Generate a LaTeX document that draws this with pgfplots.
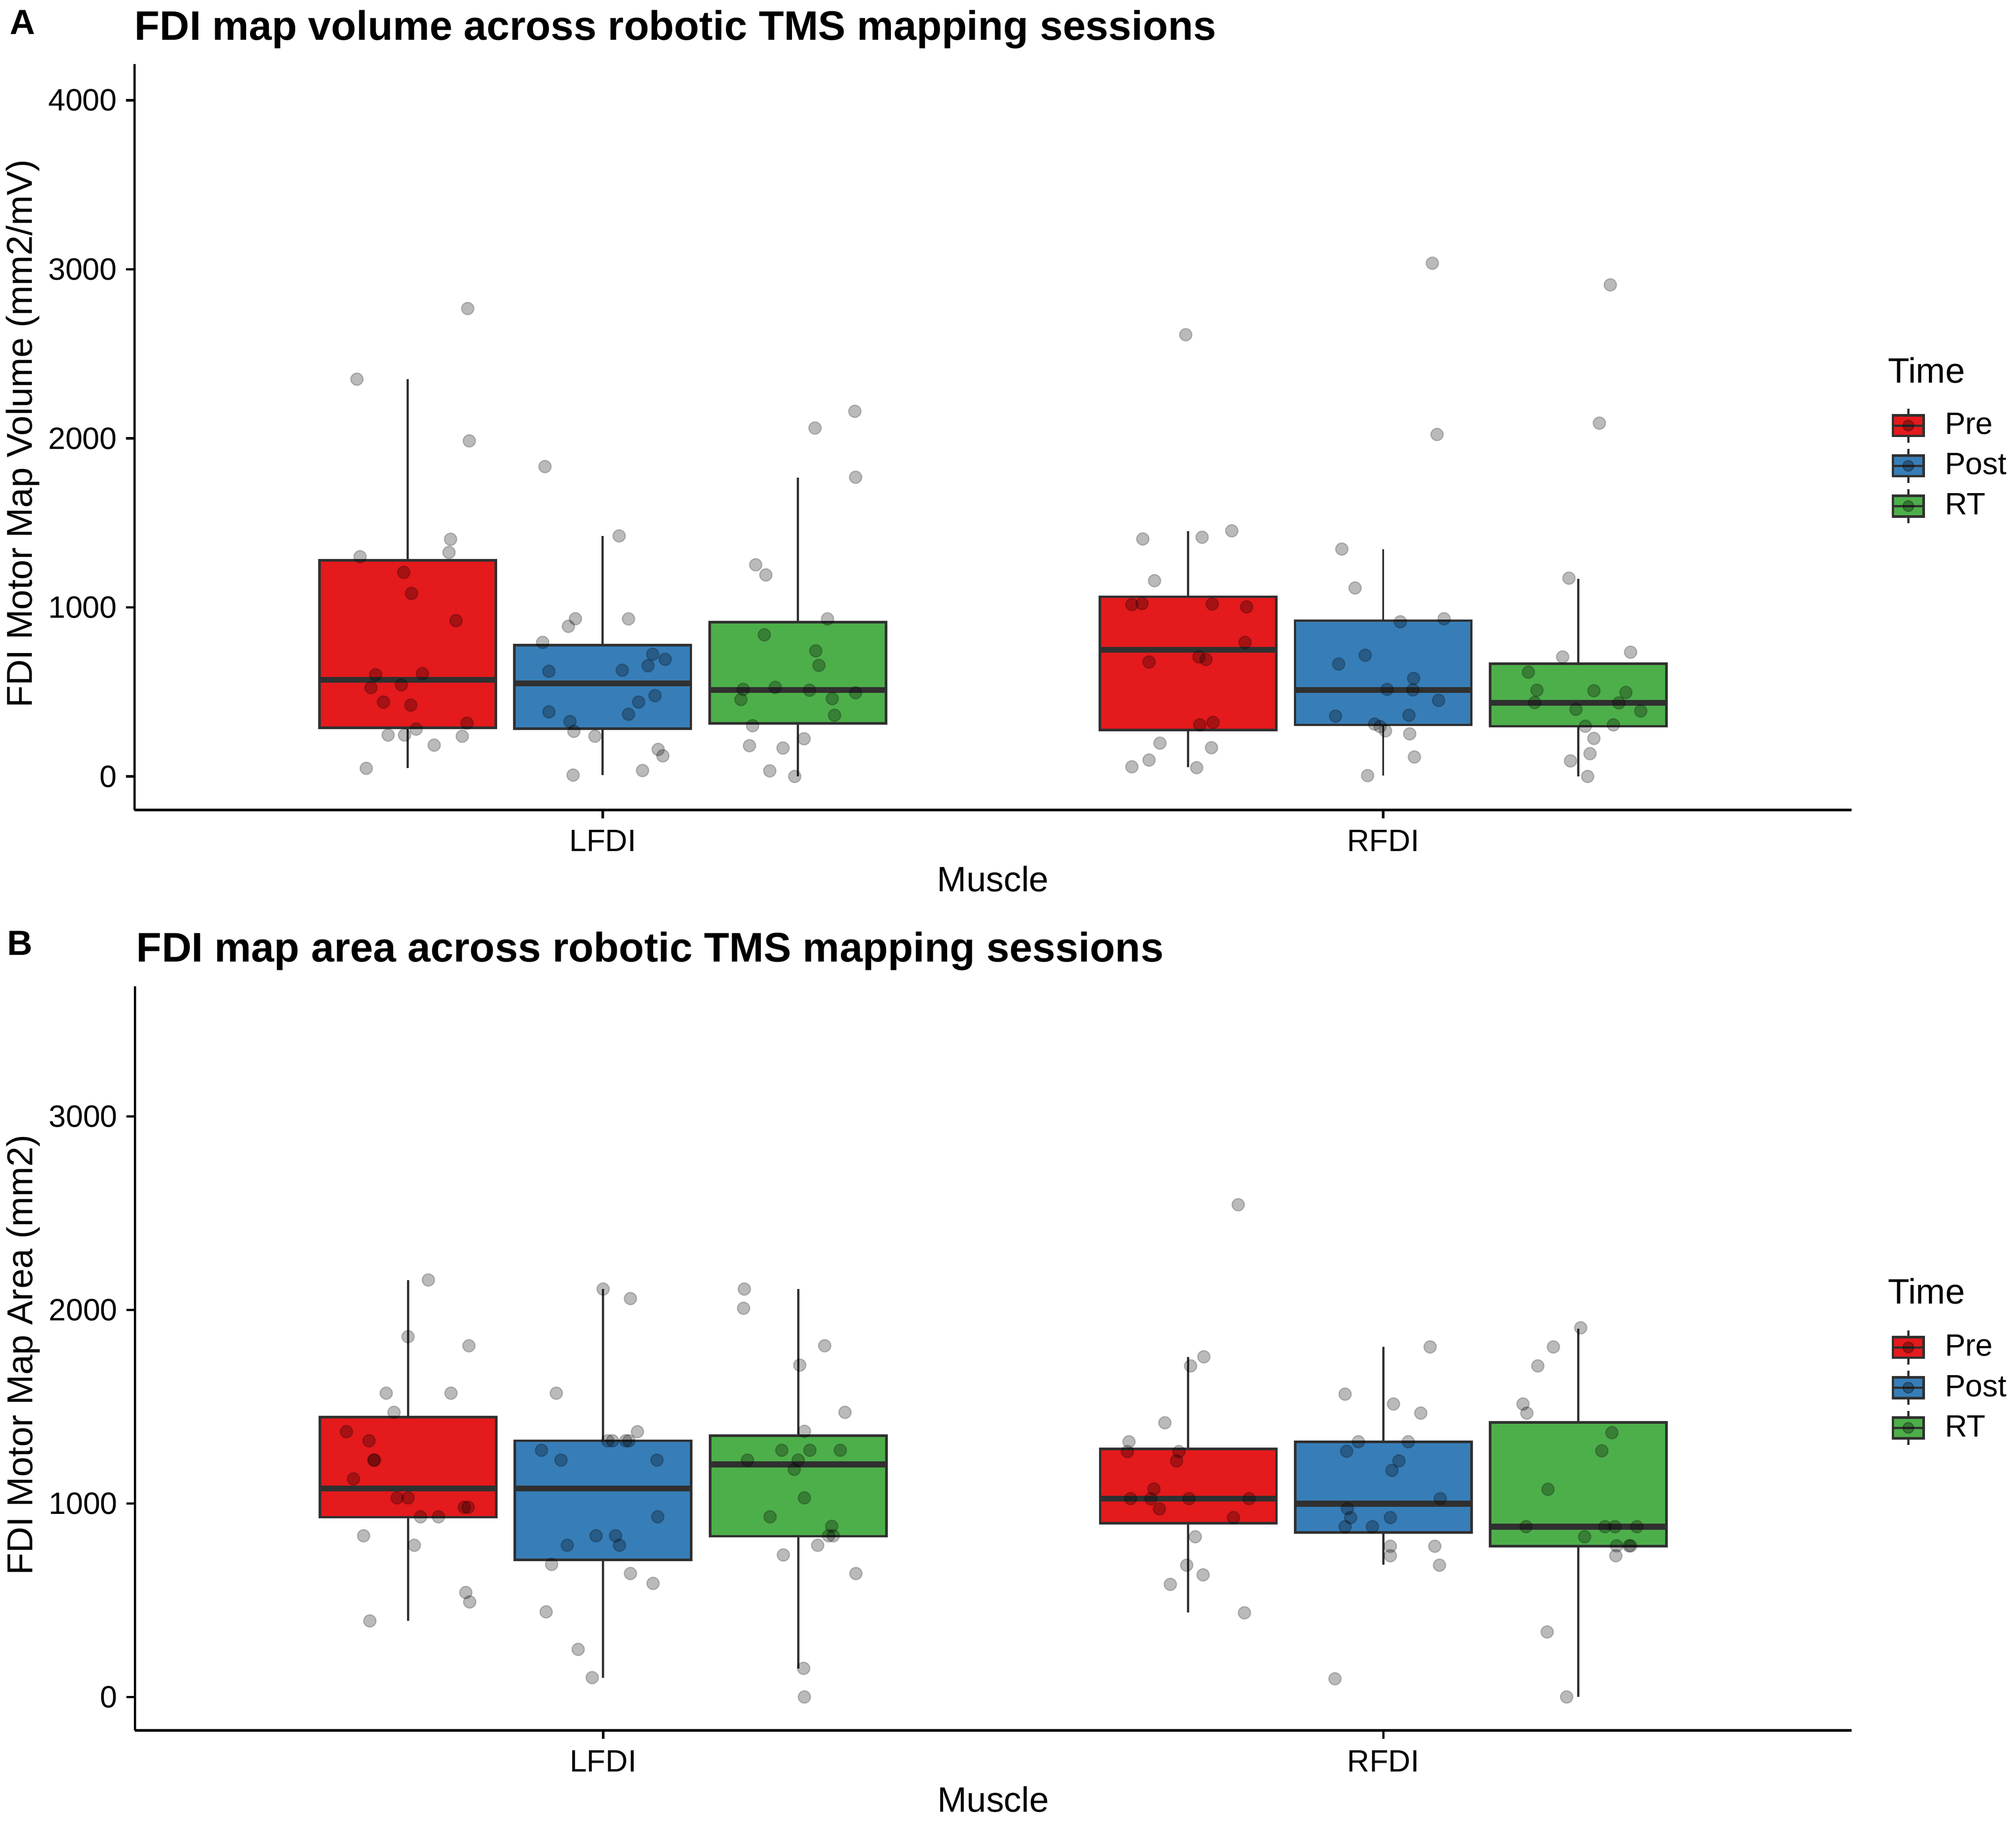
\documentclass[border=0pt]{standalone}
\usepackage{fontspec}
\setmainfont{Liberation Sans}
\usepackage{pgfplots}
\pgfplotsset{compat=1.18}

\definecolor{cpre}{HTML}{E41A1C}
\definecolor{cpost}{HTML}{377EB8}
\definecolor{crt}{HTML}{4DAF4A}
\definecolor{edge}{HTML}{303030}

% left, centre, right, colour, lower whisker, q1, median, q3, upper whisker
\newcommand{\bx}[9]{%
  \addplot[forget plot, no markers, draw=edge, line width=0.85pt] coordinates {(#2,#5)(#2,#9)};
  \addplot[forget plot, no markers, draw=edge, fill=#4, line width=1pt, line cap=rect] coordinates {(#1,#6)(#3,#6)(#3,#8)(#1,#8)(#1,#6)};
  \addplot[forget plot, no markers, draw=edge, line width=2.3pt] coordinates {(#1,#7)(#3,#7)};
}

\newcommand{\legkey}[1]{%
  \addlegendimage{legend image code/.code={
      \draw[edge, line width=0.9pt] (6pt,-6.6pt) -- (6pt,6.6pt);
      \draw[edge, fill=#1, line width=1pt] (0pt,-4pt) rectangle (12pt,4pt);
      \draw[edge, line width=0.85pt] (0pt,0pt) -- (12pt,0pt);
      \fill[black, opacity=0.3] (6pt,0pt) circle (2.1pt);
    }}
}

\pgfplotsset{
  panel/.style={
    scale only axis, anchor=south west,
    xmin=0.4, xmax=2.6,
    xtick={1,2}, xticklabels={LFDI,RFDI},
    axis lines*=left,
    axis line style={-, line width=0.95pt, black},
    tick align=outside, tick pos=left,
    major tick length=3.3pt,
    tick style={black, line width=0.95pt},
    tick label style={font=\fontsize{12}{14}\selectfont},
    xticklabel style={yshift=-1pt},
    /pgf/number format/assume math mode=true,
    /pgf/number format/1000 sep={},
    scaled ticks=false,
    every axis x label/.style={at={(axis description cs:0.5,0)}, anchor=base, yshift=-31.7pt, font=\fontsize{13.7}{16}\selectfont},
    every axis y label/.style={at={(axis description cs:0,0.5)}, rotate=90, anchor=center, yshift=43.5pt, xshift=1.3pt, font=\fontsize{14}{16}\selectfont},
    xlabel={Muscle},
    legend cell align=left,
    legend style={draw=none, fill=none, inner sep=0pt, outer sep=0pt, anchor=north west,
      row sep=1.55pt, font=\fontsize{12}{14}\selectfont,
      nodes={inner sep=0pt, outer sep=0pt},
      /tikz/every odd column/.append style={column sep=7.7pt}},
  },
  pts/.style={forget plot, only marks, mark=*, mark size=2.4pt,
    mark options={fill=black, fill opacity=0.27, draw=black, draw opacity=0.2, line width=0.5pt}},
}

\begin{document}
\begin{tikzpicture}
\useasboundingbox (0pt,0pt) rectangle (784pt,708.2pt);

\begin{axis}[panel, at={(52.3pt,393.2pt)}, width=667.7pt, height=290pt,
    ymin=-198, ymax=4213, ytick={0,1000,2000,3000,4000},
    ylabel={FDI Motor Map Volume (mm2/mV)},
    legend style={at={(axis description cs:1.0234,0.5397)}}]
  \bx{0.637}{0.75}{0.863}{cpre}{50}{288}{572}{1278}{2350}
  \bx{0.887}{1.00}{1.113}{cpost}{8}{282}{550}{777}{1423}
  \bx{1.137}{1.25}{1.363}{crt}{0}{315}{512}{912}{1767}
  \bx{1.637}{1.75}{1.863}{cpre}{55}{275}{750}{1063}{1450}
  \bx{1.887}{2.00}{2.113}{cpost}{5}{305}{512}{922}{1343}
  \bx{2.137}{2.25}{2.363}{crt}{0}{297}{435}{667}{1170}
  \addplot[pts] coordinates {(0.685,2350)(0.827,2768)(0.829,1985)(0.805,1403)(0.803,1325)(0.689,1300)(0.745,1207)(0.755,1083)(0.812,922)(0.709,602)(0.769,608)(0.703,525)(0.742,542)(0.719,440)(0.754,422)(0.826,315)(0.761,280)(0.725,245)(0.746,245)(0.820,238)(0.784,185)(0.697,48)};
  \addplot[pts] coordinates {(0.926,1833)(1.021,1423)(0.965,933)(0.956,888)(1.033,932)(0.923,793)(1.064,723)(1.080,693)(1.058,655)(0.931,622)(1.025,628)(1.067,478)(1.046,440)(0.931,382)(1.033,368)(0.958,325)(0.963,267)(0.990,238)(1.071,160)(1.077,122)(1.051,35)(0.962,8)};
  \addplot[pts] coordinates {(1.272,2061)(1.323,2160)(1.324,1770)(1.196,1252)(1.209,1192)(1.288,932)(1.207,838)(1.273,743)(1.277,657)(1.180,515)(1.221,527)(1.265,510)(1.324,495)(1.177,455)(1.294,460)(1.297,362)(1.192,300)(1.258,223)(1.188,182)(1.231,168)(1.214,33)(1.246,0)};
  \addplot[pts] coordinates {(1.747,2613)(1.806,1453)(1.768,1415)(1.692,1405)(1.707,1158)(1.678,1017)(1.691,1023)(1.781,1020)(1.825,1003)(1.823,793)(1.700,677)(1.764,707)(1.773,692)(1.782,320)(1.765,305)(1.714,197)(1.780,170)(1.700,97)(1.678,57)(1.761,52)};
  \addplot[pts] coordinates {(2.063,3036)(2.069,2023)(1.947,1345)(1.964,1115)(2.022,915)(2.078,933)(1.977,717)(1.943,665)(2.039,580)(2.005,515)(2.038,512)(2.071,450)(1.939,357)(2.033,362)(1.989,310)(1.996,295)(2.003,270)(2.034,252)(2.040,115)(1.980,5)};
  \addplot[pts] coordinates {(2.291,2908)(2.277,2090)(2.238,1173)(2.317,735)(2.230,707)(2.186,617)(2.197,510)(2.270,507)(2.311,497)(2.194,437)(2.302,435)(2.247,397)(2.330,387)(2.259,297)(2.295,305)(2.270,225)(2.265,135)(2.240,92)(2.262,0)};
  \legkey{cpre}\addlegendentry{Pre}
  \legkey{cpost}\addlegendentry{Post}
  \legkey{crt}\addlegendentry{RT}
\end{axis}

\begin{axis}[panel, at={(52.5pt,35.2pt)}, width=667.5pt, height=289.5pt,
    ymin=-173, ymax=3674, ytick={0,1000,2000,3000},
    ylabel={FDI Motor Map Area (mm2)},
    legend style={at={(axis description cs:1.0234,0.5389)}}]
  \bx{0.637}{0.75}{0.863}{cpre}{393}{929}{1078}{1446}{2155}
  \bx{0.887}{1.00}{1.113}{cpost}{100}{709}{1078}{1324}{2108}
  \bx{1.137}{1.25}{1.363}{crt}{148}{831}{1202}{1350}{2108}
  \bx{1.637}{1.75}{1.863}{cpre}{437}{899}{1025}{1281}{1758}
  \bx{1.887}{2.00}{2.113}{cpost}{683}{851}{999}{1319}{1809}
  \bx{2.137}{2.25}{2.363}{crt}{0}{779}{880}{1419}{1904}
  \addplot[pts] coordinates {(0.776,2155)(0.750,1862)(0.828,1815)(0.722,1570)(0.805,1570)(0.732,1471)(0.671,1371)(0.700,1324)(0.706,1224)(0.707,1224)(0.680,1127)(0.736,1029)(0.750,1029)(0.822,980)(0.827,980)(0.766,931)(0.789,931)(0.693,833)(0.758,784)(0.824,540)(0.829,491)(0.701,393)};
  \addplot[pts] coordinates {(1.000,2108)(1.035,2059)(0.940,1570)(1.044,1371)(1.006,1324)(1.012,1324)(1.029,1324)(1.033,1324)(0.921,1275)(0.946,1224)(1.069,1224)(1.070,931)(0.991,833)(1.016,833)(0.954,784)(1.021,784)(0.934,685)(1.035,638)(1.064,587)(0.927,440)(0.968,246)(0.986,100)};
  \addplot[pts] coordinates {(1.181,2108)(1.180,2009)(1.284,1815)(1.252,1715)(1.310,1471)(1.258,1373)(1.229,1275)(1.265,1275)(1.304,1275)(1.185,1224)(1.250,1224)(1.245,1176)(1.258,1029)(1.214,931)(1.293,882)(1.289,833)(1.295,833)(1.275,784)(1.231,734)(1.324,638)(1.257,148)(1.258,0)};
  \addplot[pts] coordinates {(1.814,2544)(1.770,1758)(1.753,1711)(1.720,1417)(1.674,1319)(1.672,1268)(1.738,1268)(1.735,1220)(1.706,1075)(1.676,1025)(1.702,1024)(1.751,1025)(1.828,1025)(1.713,972)(1.808,927)(1.759,828)(1.748,681)(1.769,631)(1.727,582)(1.822,435)};
  \addplot[pts] coordinates {(2.060,1809)(1.951,1565)(2.013,1514)(2.048,1467)(1.968,1319)(2.032,1319)(1.953,1270)(2.020,1220)(2.011,1171)(2.073,1025)(1.954,974)(1.958,927)(2.009,927)(1.951,880)(1.986,880)(2.009,779)(2.066,779)(2.009,730)(2.072,681)(1.938,94)};
  \addplot[pts] coordinates {(2.253,1908)(2.218,1809)(2.198,1711)(2.179,1514)(2.184,1467)(2.293,1366)(2.280,1272)(2.211,1073)(2.183,880)(2.284,880)(2.297,880)(2.325,880)(2.258,828)(2.299,781)(2.315,781)(2.317,781)(2.298,730)(2.210,336)(2.235,0)};
  \legkey{cpre}\addlegendentry{Pre}
  \legkey{cpost}\addlegendentry{Post}
  \legkey{crt}\addlegendentry{RT}
\end{axis}

\node[anchor=base west, inner sep=0pt, font=\fontsize{16}{18}\selectfont\bfseries] at (52.2pt,692.6pt) {FDI map volume across robotic TMS mapping sessions};
\node[anchor=base west, inner sep=0pt, font=\fontsize{16.08}{18}\selectfont\bfseries] at (52.9pt,334.2pt) {FDI map area across robotic TMS mapping sessions};
\node[anchor=base west, inner sep=0pt, font=\fontsize{13.6}{15}\selectfont\bfseries] at (3.6pt,694.8pt) {A};
\node[anchor=base west, inner sep=0pt, font=\fontsize{13.6}{15}\selectfont\bfseries] at (2.6pt,336.8pt) {B};
\node[anchor=base west, inner sep=0pt, font=\fontsize{13.7}{16}\selectfont] at (734pt,559.2pt) {Time};
\node[anchor=base west, inner sep=0pt, font=\fontsize{13.7}{16}\selectfont] at (734pt,201.2pt) {Time};
\end{tikzpicture}
\end{document}
